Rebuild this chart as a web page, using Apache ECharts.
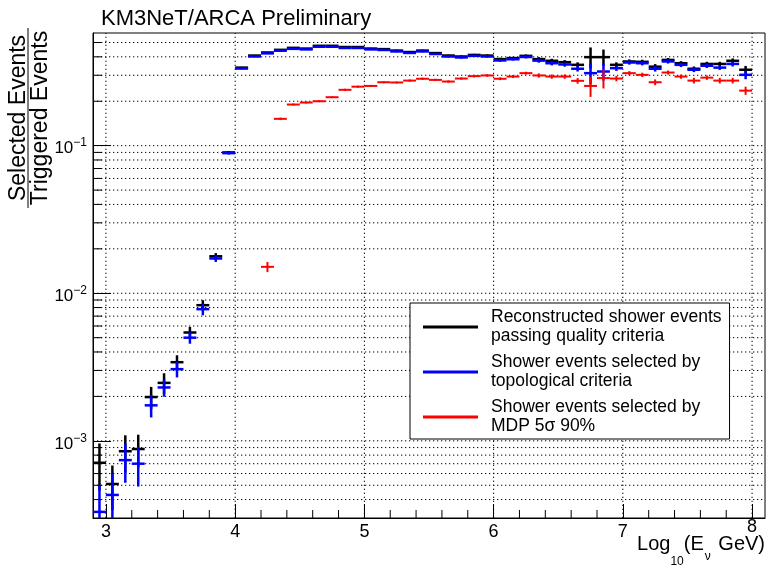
<!DOCTYPE html>
<html>
<head>
<meta charset="utf-8">
<script src="https://cdn.jsdelivr.net/npm/echarts@6/dist/echarts.min.js"></script>
<style>html,body{margin:0;padding:0;background:#fff}#c{width:781px;height:570px}</style>
</head>
<body>
<div id="c"></div>
<script>
// ---------------- data ----------------
const binCenters = [
  2.95, 3.05, 3.15, 3.25, 3.35, 3.45, 3.55, 3.65, 3.75, 3.85,
  3.95, 4.05, 4.15, 4.25, 4.35, 4.45, 4.55, 4.65, 4.75, 4.85,
  4.95, 5.05, 5.15, 5.25, 5.35, 5.45, 5.55, 5.65, 5.75, 5.85,
  5.95, 6.05, 6.15, 6.25, 6.35, 6.45, 6.55, 6.65, 6.75, 6.85,
  6.95, 7.05, 7.15, 7.25, 7.35, 7.45, 7.55, 7.65, 7.75, 7.85,
  7.95
];
const recoValues = [
  0.00071, 0.00051, 0.00085, 0.00088, 0.00198, 0.00247, 0.00341, 0.00542, 0.0083, 0.0178,
  0.090, 0.338, 0.408, 0.428, 0.446, 0.460, 0.455, 0.475, 0.475, 0.466,
  0.466, 0.455, 0.451, 0.441, 0.431, 0.441, 0.424, 0.408, 0.402, 0.412,
  0.408, 0.386, 0.392, 0.406, 0.386, 0.376, 0.368, 0.353, 0.398, 0.398,
  0.353, 0.372, 0.370, 0.343, 0.381, 0.362, 0.332, 0.358, 0.358, 0.376,
  0.327
];
const recoErrors = [
  0.00025, 0.00017, 0.00024, 0.00022, 0.00034, 0.00040, 0.00039, 0.00050, 0.00067, 0.0009,
  0.002, 0.004, 0.004, 0.004, 0.004, 0.004, 0.004, 0.004, 0.005, 0.005,
  0.005, 0.005, 0.005, 0.006, 0.006, 0.006, 0.006, 0.006, 0.007, 0.007,
  0.007, 0.008, 0.008, 0.009, 0.012, 0.012, 0.012, 0.014, 0.065, 0.050,
  0.014, 0.012, 0.012, 0.014, 0.012, 0.012, 0.012, 0.012, 0.012, 0.014,
  0.020
];
const topoValues = [
  0.00033, 0.00043, 0.00074, 0.00070, 0.00174, 0.0023, 0.00306, 0.0050, 0.0078, 0.0172,
  0.089, 0.333, 0.402, 0.422, 0.440, 0.453, 0.449, 0.468, 0.468, 0.459,
  0.459, 0.449, 0.445, 0.435, 0.425, 0.435, 0.418, 0.402, 0.396, 0.406,
  0.402, 0.378, 0.385, 0.399, 0.377, 0.362, 0.355, 0.332, 0.310, 0.318,
  0.335, 0.366, 0.362, 0.332, 0.372, 0.353, 0.327, 0.348, 0.338, 0.358,
  0.302
];
const topoErrors = [
  0.00017, 0.00017, 0.00022, 0.00021, 0.00030, 0.00031, 0.00037, 0.00045, 0.00070, 0.0009,
  0.002, 0.004, 0.004, 0.004, 0.004, 0.004, 0.004, 0.004, 0.005, 0.005,
  0.005, 0.005, 0.005, 0.006, 0.006, 0.006, 0.006, 0.006, 0.007, 0.007,
  0.007, 0.008, 0.008, 0.009, 0.012, 0.012, 0.012, 0.014, 0.050, 0.042,
  0.014, 0.012, 0.012, 0.014, 0.012, 0.012, 0.012, 0.012, 0.012, 0.014,
  0.020
];
const mdpValues = [
  null, null, null, null, null, null, null, null, null, null,
  null, null, null, 0.0151, 0.152, 0.190, 0.196, 0.200, 0.213, 0.239,
  0.251, 0.254, 0.269, 0.268, 0.276, 0.284, 0.279, 0.272, 0.285, 0.296,
  0.299, 0.284, 0.294, 0.310, 0.299, 0.294, 0.294, 0.275, 0.254, 0.287,
  0.285, 0.310, 0.302, 0.269, 0.313, 0.294, 0.276, 0.289, 0.276, 0.276,
  0.236
];
const mdpErrors = [
  null, null, null, null, null, null, null, null, null, null,
  null, null, null, 0.0012, 0.003, 0.003, 0.003, 0.003, 0.003, 0.004,
  0.004, 0.004, 0.004, 0.004, 0.005, 0.005, 0.005, 0.005, 0.005, 0.006,
  0.006, 0.006, 0.007, 0.007, 0.010, 0.010, 0.010, 0.012, 0.040, 0.043,
  0.012, 0.010, 0.010, 0.012, 0.010, 0.010, 0.012, 0.010, 0.012, 0.012,
  0.015
];
const seriesNames = [
  'Reconstructed shower events\npassing quality criteria',
  'Shower events selected by\ntopological criteria',
  'Shower events selected by\nMDP 5σ 90%'
];
const titleText = 'KM3NeT/ARCA Preliminary';
const yTitleTop = 'Selected Events';
const yTitleBottom = 'Triggered Events';
const xTitleParts = ['Log', '10', '(E', 'ν', ' GeV)'];
const xGridValues = [3, 4, 5, 6, 7, 8];
const xMinorTicks = [3.2, 3.4, 3.6, 3.8, 4.2, 4.4, 4.6, 4.8, 5.2, 5.4, 5.6, 5.8,
                     6.2, 6.4, 6.6, 6.8, 7.2, 7.4, 7.6, 7.8];
const yMajorTicks = [0.001, 0.01, 0.1];
const yMinorTicks = [0.0004, 0.0005, 0.0006, 0.0007, 0.0008, 0.0009,
                     0.002, 0.003, 0.004, 0.005, 0.006, 0.007, 0.008, 0.009,
                     0.02, 0.03, 0.04, 0.05, 0.06, 0.07, 0.08, 0.09,
                     0.2, 0.3, 0.4, 0.5];

// ---------------- layout / style ----------------
const X_MIN = 2.9, X_MAX = 8.1, Y_MIN = 3e-4, Y_MAX = 0.58;
const BIN_HALF = 0.05;
const FONT = "'Liberation Sans', Arial, Helvetica, sans-serif";
const colors = ['#000000', '#0000ff', '#ff0000'];
const widths = [2.5, 2.5, 2];

function errSeries(idx, values, errors) {
  const data = [];
  binCenters.forEach((x, i) => {
    if (values[i] != null) data.push([x, values[i], errors[i]]);
  });
  return {
    type: 'custom', name: seriesNames[idx], xAxisIndex: 0, yAxisIndex: 0,
    z: 3 + idx, silent: true, clip: true,
    itemStyle: { color: colors[idx] },
    encode: { x: 0, y: 1 },
    data: data,
    renderItem: function (params, api) {
      const x = api.value(0), y = api.value(1), e = api.value(2);
      const a = api.coord([x - BIN_HALF, y]);
      const b = api.coord([x + BIN_HALF, y]);
      const t = api.coord([x, Math.min(y + e, Y_MAX)]);
      const d = api.coord([x, Math.max(y - e, Y_MIN)]);
      const st = { stroke: colors[idx], lineWidth: widths[idx] };
      return { type: 'group', children: [
        { type: 'line', shape: { x1: a[0], y1: a[1], x2: b[0], y2: b[1] }, style: st },
        { type: 'line', shape: { x1: t[0], y1: t[1], x2: d[0], y2: d[1] }, style: st }
      ]};
    }
  };
}

function decorSeries(kind, values) {
  const data = values.map(v => (kind[0] === 'y' ? [X_MIN, v] : [v, Y_MIN]));
  return {
    type: 'custom', xAxisIndex: 0, yAxisIndex: 0, z: 1, silent: true,
    data: data, encode: { x: 0, y: 1 },
    renderItem: function (params, api) {
      const v = kind[0] === 'y' ? api.value(1) : api.value(0);
      if (kind === 'ygrid') {
        const p = api.coord([X_MIN, v]), q = api.coord([X_MAX, v]);
        return { type: 'line', shape: { x1: p[0], y1: p[1], x2: q[0], y2: q[1] },
          style: { stroke: '#000', lineWidth: 1, lineDash: [1.3, 2.7] } };
      }
      if (kind === 'xgrid') {
        const p = api.coord([v, Y_MIN]), q = api.coord([v, Y_MAX]);
        return { type: 'line', shape: { x1: p[0], y1: p[1], x2: q[0], y2: q[1] },
          style: { stroke: '#000', lineWidth: 1, lineDash: [1.3, 2.7] } };
      }
      if (kind === 'ytick') {
        const p = api.coord([X_MIN, v]);
        return { type: 'line', shape: { x1: p[0], y1: p[1], x2: p[0] + 9, y2: p[1] },
          style: { stroke: '#000', lineWidth: 1 } };
      }
      const p = api.coord([v, Y_MIN]);
      return { type: 'line', shape: { x1: p[0], y1: p[1], x2: p[0], y2: p[1] - 8 },
        style: { stroke: '#000', lineWidth: 1 } };
    }
  };
}

const chart = echarts.init(document.getElementById('c'), null, { renderer: 'canvas' });
chart.setOption({
  animation: false,
  backgroundColor: '#fff',
  title: {
    text: titleText, left: 101, top: 8, padding: 0,
    textStyle: { fontFamily: FONT, fontSize: 22, fontWeight: 'normal', color: '#000' }
  },
  grid: { left: 93, right: 16, top: 33, bottom: 52, show: true, containLabel: false,
          outerBoundsMode: 'none',
          borderColor: '#000', borderWidth: 1, backgroundColor: 'transparent' },
  legend: {
    left: 410, top: 303, orient: 'vertical', selectedMode: false,
    padding: [5, 8, 3, 13], itemGap: 7, itemWidth: 55, itemHeight: 3,
    borderColor: '#000', borderWidth: 1, backgroundColor: '#fff',
    textStyle: { fontFamily: FONT, fontSize: 17.5, lineHeight: 19, color: '#000', padding: [0, 0, 0, 8] },
    data: seriesNames.map((n, i) => ({ name: n, icon: 'rect', itemStyle: { color: colors[i] } }))
  },
  xAxis: [{
    type: 'value', min: X_MIN, max: X_MAX, position: 'bottom',
    axisLine: { show: true, onZero: false, lineStyle: { color: '#000', width: 1 } },
    axisTick: { show: true, inside: true, length: 14, lineStyle: { color: '#000', width: 1 } },
    splitLine: { show: false },
    axisLabel: {
      show: true, margin: 5, showMinLabel: false, showMaxLabel: false,
      formatter: function (v) { return v === 8 ? '{up|' + v + '}' : '{n|' + v + '}'; },
      rich: {
        n: { fontFamily: FONT, fontSize: 18, color: '#000', lineHeight: 18 },
        up: { fontFamily: FONT, fontSize: 18, color: '#000', lineHeight: 8 }
      }
    }
  }],
  yAxis: [{
    type: 'log', logBase: 10, min: Y_MIN, max: Y_MAX, position: 'left',
    axisLine: { show: true, onZero: false, lineStyle: { color: '#000', width: 1 } },
    axisTick: { show: true, inside: true, length: 18, lineStyle: { color: '#000', width: 1 } },
    splitLine: { show: false },
    axisLabel: {
      show: true, margin: 6, showMinLabel: false, showMaxLabel: false,
      formatter: function (v) {
        const ex = Math.round(Math.log10(v));
        return '{b|10}{s|\u2212' + Math.abs(ex) + '}';
      },
      rich: {
        b: { fontFamily: FONT, fontSize: 17, color: '#000', verticalAlign: 'top', lineHeight: 17, padding: [3, 0, 0, 0] },
        s: { fontFamily: FONT, fontSize: 12, color: '#000', verticalAlign: 'top', lineHeight: 12 }
      }
    }
  }],
  graphic: [{
    type: 'group', x: 28, y: 118, rotation: Math.PI / 2,
    children: [
      { type: 'text', style: { text: yTitleTop, x: 0, y: 2, align: 'center', verticalAlign: 'bottom',
          font: '23px ' + FONT, fill: '#000' } },
      { type: 'line', shape: { x1: -90, y1: 0, x2: 90, y2: 0 }, style: { stroke: '#000', lineWidth: 1 } },
      { type: 'text', style: { text: yTitleBottom, x: 0, y: 1, align: 'center', verticalAlign: 'top',
          font: '23px ' + FONT, fill: '#000' } }
    ]
  }, {
    type: 'text', x: 765, y: 534,
    style: {
      text: '{m|' + xTitleParts[0] + '}{s10|' + xTitleParts[1] + '}{m|' + xTitleParts[2] +
            '}{sv|' + xTitleParts[3] + '}{m|' + xTitleParts[4] + '}',
      align: 'right', verticalAlign: 'top',
      rich: {
        m: { fontFamily: FONT, fontSize: 20, fill: '#000', verticalAlign: 'top', lineHeight: 20 },
        s10: { fontFamily: FONT, fontSize: 12, fill: '#000', verticalAlign: 'top', lineHeight: 12, padding: [22, 0, 0, 0] },
        sv: { fontFamily: FONT, fontSize: 12, fill: '#000', verticalAlign: 'top', lineHeight: 12, padding: [17, 2, 0, 1] }
      }
    }
  }],
  series: [
    decorSeries('ygrid', yMajorTicks.concat(yMinorTicks)),
    decorSeries('xgrid', xGridValues),
    decorSeries('ytick', yMinorTicks),
    decorSeries('xtick', xMinorTicks),
    errSeries(0, recoValues, recoErrors),
    errSeries(1, topoValues, topoErrors),
    errSeries(2, mdpValues, mdpErrors)
  ]
});
</script>
</body>
</html>
